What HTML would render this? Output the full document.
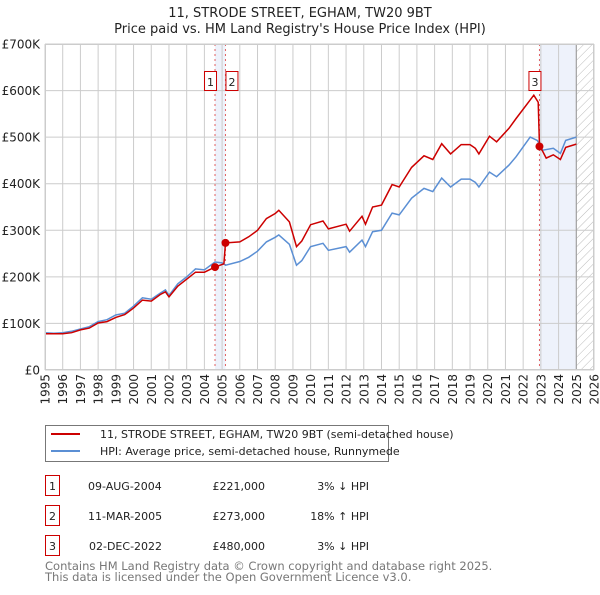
<!DOCTYPE html>
<html><head><meta charset="utf-8"><style>
body{margin:0;background:#fff;font-family:"Liberation Sans","DejaVu Sans",sans-serif;}
svg text{font-family:"DejaVu Sans","Liberation Sans",sans-serif;}
</style></head><body>
<svg id="c" width="600" height="590" xmlns="http://www.w3.org/2000/svg">
<defs><pattern id="hatch" width="6" height="6" patternUnits="userSpaceOnUse" patternTransform="rotate(45)"><line x1="0" y1="0" x2="0" y2="6" stroke="#bbb" stroke-width="1"/></pattern></defs>
<text x="300" y="17" text-anchor="middle" font-size="13" fill="#222">11, STRODE STREET, EGHAM, TW20 9BT</text>
<text x="300" y="33" text-anchor="middle" font-size="13" fill="#222">Price paid vs. HM Land Registry's House Price Index (HPI)</text>
<g id="plot"></g>
<g>
<rect x="45.5" y="425.5" width="343" height="36" fill="#fff" stroke="#777"/>
<line x1="51" y1="434" x2="80" y2="434" stroke="#cc0000" stroke-width="2"/>
<text x="100" y="438" font-size="11" fill="#222">11, STRODE STREET, EGHAM, TW20 9BT (semi-detached house)</text>
<line x1="51" y1="451" x2="80" y2="451" stroke="#5b8fd4" stroke-width="2"/>
<text x="100" y="455" font-size="11" fill="#222">HPI: Average price, semi-detached house, Runnymede</text>
</g>
<g font-size="11" fill="#222">
<rect x="45.5" y="475.5" width="14" height="20" fill="none" stroke="#cc0000"/><text x="52.5" y="490" text-anchor="middle">1</text>
<text x="88" y="490">09-AUG-2004</text><text x="265" y="490" text-anchor="end">£221,000</text><text x="369" y="490" text-anchor="end">3% ↓ HPI</text>
<rect x="45.5" y="505.5" width="14" height="20" fill="none" stroke="#cc0000"/><text x="52.5" y="520" text-anchor="middle">2</text>
<text x="88" y="520">11-MAR-2005</text><text x="265" y="520" text-anchor="end">£273,000</text><text x="369" y="520" text-anchor="end">18% ↑ HPI</text>
<rect x="45.5" y="535.5" width="14" height="20" fill="none" stroke="#cc0000"/><text x="52.5" y="550" text-anchor="middle">3</text>
<text x="89" y="550">02-DEC-2022</text><text x="265" y="550" text-anchor="end">£480,000</text><text x="369" y="550" text-anchor="end">3% ↓ HPI</text>
</g>
<text x="45" y="570" font-size="11.5" fill="#777">Contains HM Land Registry data © Crown copyright and database right 2025.</text>
<text x="45" y="581" font-size="11.5" fill="#777">This data is licensed under the Open Government Licence v3.0.</text>
</svg>
<script>
const hpiDates=[1995,1995.5,1996,1996.5,1997,1997.5,1998,1998.5,1999,1999.5,2000,2000.5,2001,2001.5,2001.8,2002,2002.5,2003,2003.5,2004,2004.6,2005,2005.2,2006,2006.5,2007,2007.5,2008,2008.2,2008.8,2009.2,2009.5,2010,2010.7,2011,2012,2012.2,2012.9,2013.1,2013.5,2014,2014.6,2015,2015.7,2016.4,2016.9,2017.4,2017.9,2018.5,2019,2019.3,2019.5,2020.1,2020.5,2021.2,2021.6,2022.4,2022.8,2023.1,2023.7,2024.1,2024.4,2025];
const hpiValues=[80,79,80,83,88,93,104,108,118,122,137,155,152,165,172,160,185,200,217,215,232,230,225,233,242,255,275,285,290,270,225,235,265,272,257,265,253,279,265,297,300,337,333,369,390,383,412,393,410,410,403,393,425,415,440,458,500,493,472,476,465,493,500];
const redDates=[1995,1996,1996.5,1997,1997.5,1998,1998.5,1999,1999.5,2000,2000.5,2001,2001.5,2001.8,2002,2002.5,2003,2003.5,2004,2004.6,2005.1,2005.19,2006,2006.5,2007,2007.5,2008,2008.2,2008.8,2009.2,2009.5,2010,2010.7,2011,2012,2012.2,2012.9,2013.1,2013.5,2014,2014.6,2015,2015.7,2016.4,2016.9,2017.4,2017.9,2018.5,2019,2019.3,2019.5,2020.1,2020.5,2021.2,2021.6,2022.4,2022.6,2022.85,2022.92,2023.1,2023.3,2023.7,2024.1,2024.4,2025];
const redValues=[78,78,80,86,90,101,104,113,119,133,150,148,162,168,157,180,195,210,210,221,228,273,275,286,300,325,336,343,318,265,277,312,320,303,313,298,330,313,350,354,398,393,435,460,452,486,464,484,484,476,464,502,490,519,540,580,590,575,480,470,455,462,452,478,485];
const saleDates=[2004.6,2005.19,2022.92];
const saleValues=[221,273,480];
const saleLabels=["1","2","3"];
const yTicks=[0,100,200,300,400,500,600,700];
const yTickLabels=["£0","£100K","£200K","£300K","£400K","£500K","£600K","£700K"];
const xTicks=[];for(let y=1995;y<=2026;y++)xTicks.push(y);

const X0=45,X1=594,Y0=370,Y1=44;
const xs=d=>X0+(d-1995)/(2026-1995)*(X1-X0);
const ys=v=>Y0-v/700*(Y0-Y1);
const NS="http://www.w3.org/2000/svg";
const g=document.getElementById('plot');
function mk(t,a,p){const e=document.createElementNS(NS,t);for(const k in a)e.setAttribute(k,a[k]);(p||g).appendChild(e);return e;}

let r=mk('rect',{x:xs(saleDates[0]),y:Y1,width:xs(saleDates[1])-xs(saleDates[0]),height:Y0-Y1,fill:'#eef2fb'});


r=mk('rect',{x:xs(saleDates[2]),y:Y1,width:xs(2025)-xs(saleDates[2]),height:Y0-Y1,fill:'#eef2fb'});


r=mk('rect',{x:xs(2025),y:Y1,width:X1-xs(2025),height:Y0-Y1,fill:'url(#hatch)'});



xTicks.forEach((t,i)=>{
  const l=mk('line',{x1:xs(t),x2:xs(t),y1:Y1,y2:Y0,stroke:'#cccccc','stroke-width':1});
  
  
  const tx=mk('text',{x:0,y:0,'font-size':12,fill:'#222','text-anchor':'end',transform:`translate(${xs(t)+4.5},374) rotate(-90)`});
  tx.textContent=String(t);
  
  
});
yTicks.forEach((t,i)=>{
  const l=mk('line',{x1:X0,x2:X1,y1:ys(t),y2:ys(t),stroke:'#cccccc','stroke-width':1});
  
  
  const tx=mk('text',{x:40,y:ys(t)+4.5,'font-size':12,fill:'#222','text-anchor':'end'});
  tx.textContent=yTickLabels[i];
  
  
});
let b=mk('line',{x1:xs(2025),x2:xs(2025),y1:Y1,y2:Y0,stroke:'#999','stroke-width':1});



saleDates.forEach((d,i)=>{
  const l=mk('line',{x1:xs(d),x2:xs(d),y1:Y1,y2:Y0,stroke:'#e06060','stroke-width':1,'stroke-dasharray':'2,3'});
  
  
});

function path(ds,vs){return ds.map((d,i)=>(i?'L':'M')+xs(d).toFixed(1)+','+ys(vs[i]).toFixed(1)).join('');}
let p=mk('path',{d:path(hpiDates,hpiValues),fill:'none',stroke:'#5b8fd4','stroke-width':1.5});


p=mk('path',{d:path(redDates,redValues),fill:'none',stroke:'#cc0000','stroke-width':1.5});



const boxX=[-11,0,-11];
saleDates.forEach((d,i)=>{
  const c=mk('circle',{cx:xs(d),cy:ys(saleValues[i]),r:4,fill:'#cc0000'});
  
  
  const bx=xs(d)+boxX[i];
  const rr=mk('rect',{x:bx+0.5,y:71.5,width:12,height:19,fill:'#fff',stroke:'#cc0000'});
  
  
  const t=mk('text',{x:bx+6.5,y:86,'font-size':11,fill:'#222','text-anchor':'middle'});
  t.textContent=saleLabels[i];
  
  
});
let f=mk('rect',{x:X0+0.5,y:Y1+0.5,width:X1-X0-1,height:Y0-Y1-1,fill:'none',stroke:'#ccc'});


</script>
</body></html>
